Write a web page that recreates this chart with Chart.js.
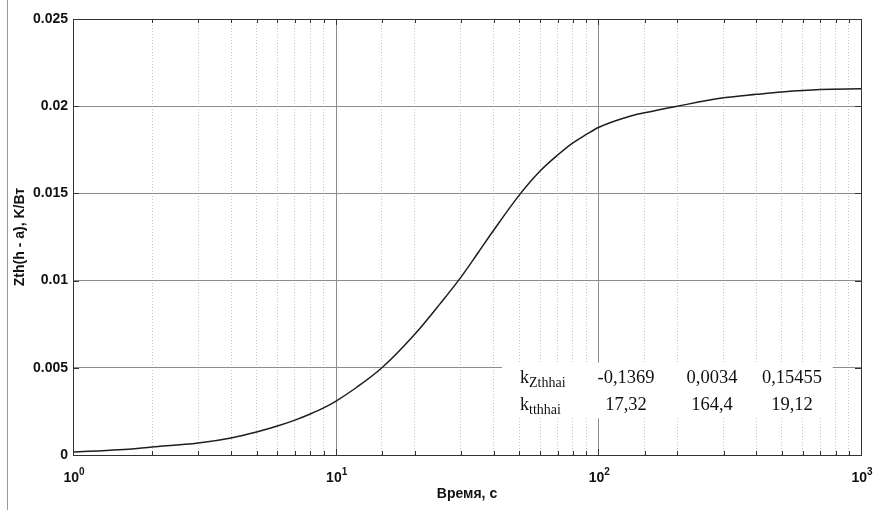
<!DOCTYPE html>
<html lang="ru">
<head>
<meta charset="UTF-8">
<title>Zth(h - a)</title>
<script src="https://cdn.jsdelivr.net/npm/chart.js"></script>
<style>
    html, body { margin: 0; padding: 0; background: #fff; }
    #wrap { position: relative; width: 876px; height: 510px; }
    #edge { position: absolute; left: 7px; top: 0; width: 1px; height: 510px; background: #9a9a9a; }
</style>
</head>
<body>
<div id="wrap">
    <div id="edge"></div>
    <canvas id="zth" width="876" height="510"></canvas>
</div>
<script>
// values
const timeS = [1, 1.5, 2, 3, 4, 5, 6, 7, 8, 9, 10, 12, 15, 20, 25, 30, 35, 40, 50, 60, 70, 80, 90, 100, 130, 150, 200, 300, 400, 500, 700, 1000];
const zth = [0.00017, 0.0003, 0.00046, 0.00069, 0.00098, 0.00132, 0.00166, 0.0020, 0.00235, 0.0027, 0.00308,
             0.00387, 0.0050, 0.00692, 0.00868, 0.0102, 0.01164, 0.0129, 0.0149, 0.01628, 0.0172, 0.0179, 0.01838, 0.01878,
             0.0194, 0.01962, 0.0200, 0.02048, 0.02068, 0.02082, 0.02096, 0.0210];
const yTickLabels = ['0', '0.005', '0.01', '0.015', '0.02', '0.025'];
const xDecades = [1, 10, 100, 1000];
const xExponents = ['0', '1', '2', '3'];

// inset table
const kNames = ['Zthhai', 'tthhai'];
const kValues = [
    ['-0,1369', '0,0034', '0,15455'],
    ['17,32', '164,4', '19,12']
];

const isDecade = v => Math.abs(Math.log10(v) - Math.round(Math.log10(v))) < 1e-9;
const serif = '"Liberation Serif", "Times New Roman", serif';
const sans = '"Liberation Sans", Arial, sans-serif';

const matlabLook = {
    id: 'matlabLook',
    beforeDatasetsDraw(chart) {
        const { ctx, chartArea: a, scales: { x, y } } = chart;
        ctx.save();
        // solid decade lines
        ctx.strokeStyle = '#8c8c8c';
        ctx.lineWidth = 1;
        xDecades.forEach(v => {
            const px = Math.round(x.getPixelForValue(v)) + 0.5;
            ctx.beginPath(); ctx.moveTo(px, a.top); ctx.lineTo(px, a.bottom); ctx.stroke();
        });
        // white box behind the table
        const bx = x.getPixelForValue(43), bx2 = x.getPixelForValue(780);
        const by = y.getPixelForValue(0.0053), by2 = y.getPixelForValue(0.0021);
        ctx.fillStyle = '#fff';
        ctx.fillRect(bx, by, bx2 - bx, by2 - by);

        const cols = [124, 210, 290];
        const rows = [20, 47];
        ctx.fillStyle = '#111';
        ctx.textBaseline = 'alphabetic';
        kNames.forEach((name, r) => {
            const base = by + rows[r];
            ctx.textAlign = 'left';
            ctx.font = '18px ' + serif;
            ctx.fillText('k', bx + 18, base);
            const kw = ctx.measureText('k').width;
            ctx.font = '14px ' + serif;
            ctx.fillText(name, bx + 18 + kw, base + 4);
            ctx.textAlign = 'center';
            ctx.font = '18.5px ' + serif;
            kValues[r].forEach((t, c) => ctx.fillText(t, bx + cols[c], base));
        });
        ctx.restore();
    },
    afterDatasetsDraw(chart) {
        const { ctx, chartArea: a, scales: { x, y } } = chart;
        ctx.save();
        ctx.strokeStyle = '#333';
        ctx.lineWidth = 1;
        // inward ticks
        ctx.beginPath();
        x.ticks.forEach(t => {
            const px = Math.round(x.getPixelForValue(t.value)) + 0.5;
            const len = isDecade(t.value) ? 6 : 4;
            ctx.moveTo(px, a.bottom); ctx.lineTo(px, a.bottom - len);
            ctx.moveTo(px, a.top); ctx.lineTo(px, a.top + len);
        });
        y.ticks.forEach(t => {
            const py = Math.round(y.getPixelForValue(t.value)) + 0.5;
            ctx.moveTo(a.left, py); ctx.lineTo(a.left + 6, py);
            ctx.moveTo(a.right, py); ctx.lineTo(a.right - 6, py);
        });
        ctx.stroke();
        // frame
        ctx.strokeRect(Math.round(a.left) + 0.5, Math.round(a.top) + 0.5,
                       Math.round(a.right - a.left), Math.round(a.bottom - a.top));
        // x labels 10^n
        ctx.fillStyle = '#111';
        ctx.textBaseline = 'alphabetic';
        xDecades.forEach((v, i) => {
            const px = x.getPixelForValue(v);
            ctx.font = 'bold 14px ' + sans;
            const w1 = ctx.measureText('10').width;
            ctx.font = 'bold 10px ' + sans;
            const w2 = ctx.measureText(xExponents[i]).width;
            const left = px - (w1 + w2) / 2 + 1;
            ctx.textAlign = 'left';
            ctx.font = 'bold 14px ' + sans;
            ctx.fillText('10', left, a.bottom + 27);
            ctx.font = 'bold 10px ' + sans;
            ctx.fillText(xExponents[i], left + w1, a.bottom + 20);
        });
        ctx.restore();
    }
};

new Chart(document.getElementById('zth'), {
    type: 'line',
    data: {
        datasets: [{
            data: timeS.map((t, i) => ({ x: t, y: zth[i] })),
            borderColor: '#1e1e1e',
            borderWidth: 1.5,
            pointRadius: 0,
            cubicInterpolationMode: 'monotone',
            fill: false
        }]
    },
    options: {
        responsive: false,
        animation: false,
        layout: { padding: { left: 8, right: 15, top: 19, bottom: 3 } },
        plugins: { legend: { display: false }, tooltip: { enabled: false } },
        scales: {
            x: {
                type: 'logarithmic',
                min: 1,
                max: 1000,
                grid: {
                    color: c => (c.tick && isDecade(c.tick.value)) ? 'rgba(0,0,0,0)' : '#c4c4c4',
                    drawTicks: false
                },
                border: { display: false, dash: [1, 2] },
                ticks: { display: false },
                afterFit: s => { s.height = 52; },
                title: {
                    display: true,
                    text: 'Время, с',
                    color: '#111',
                    font: { family: sans, size: 14, weight: 'bold' },
                    padding: 4
                }
            },
            y: {
                min: 0,
                max: 0.025,
                ticks: {
                    stepSize: 0.005,
                    padding: 5,
                    color: '#111',
                    font: { family: sans, size: 14, weight: 'bold' },
                    callback: (v, i) => yTickLabels[i]
                },
                grid: { color: '#8c8c8c', drawTicks: false },
                border: { display: false },
                afterFit: s => { s.width = 65; },
                title: {
                    display: true,
                    text: 'Zth(h - a), K/Вт',
                    color: '#111',
                    font: { family: sans, size: 14, weight: 'bold' },
                    padding: 4
                }
            }
        }
    },
    plugins: [matlabLook]
});
</script>
</body>
</html>
